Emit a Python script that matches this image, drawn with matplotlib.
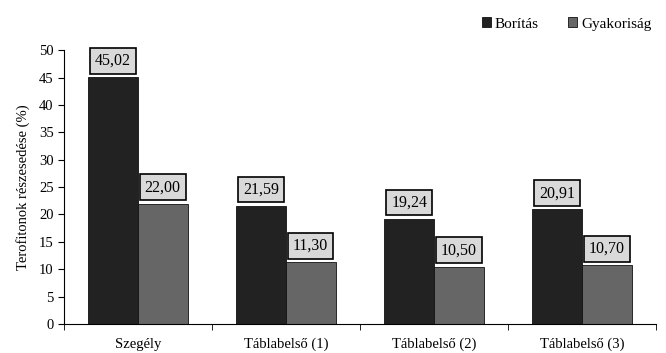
import matplotlib
matplotlib.use('Agg')
import matplotlib.pyplot as plt
import numpy as np

plt.rcParams['font.family'] = ['Liberation Serif', 'DejaVu Serif']

categories = ['Szegély', 'Táblabelső (1)', 'Táblabelső (2)', 'Táblabelső (3)']
boritas = [45.02, 21.59, 19.24, 20.91]
gyakorisag = [22.00, 11.30, 10.50, 10.70]

fig = plt.figure(figsize=(6.66, 3.53), dpi=100)
ax = fig.add_axes([0.096, 0.082, 0.889, 0.776])

x = np.arange(len(categories))
w = 0.335
b1 = ax.bar(x - w / 2, boritas, w, color='#222222', edgecolor='#111111', linewidth=0.6, label='Borítás')
b2 = ax.bar(x + w / 2, gyakorisag, w, color='#666666', edgecolor='#111111', linewidth=0.6, label='Gyakoriság')

for bars, vals in ((b1, boritas), (b2, gyakorisag)):
    for r, v in zip(bars, vals):
        ax.annotate(f'{v:.2f}'.replace('.', ','), (r.get_x() + r.get_width() / 2, v),
                    xytext=(0, 6), textcoords='offset points', ha='center', va='bottom',
                    fontsize=11.5,
                    bbox=dict(boxstyle='square,pad=0.3', fc='#d9d9d9', ec='black', lw=1.2))

ax.set_xlim(-0.5, len(categories) - 0.5)
ax.set_ylim(0, 50)
ax.set_yticks(np.arange(0, 51, 5))
ax.set_xticks(x)
ax.set_xticklabels(categories, fontsize=10.5)
ax.tick_params(axis='x', length=0, pad=10)
ax.set_xticks(np.arange(-0.5, len(categories)), minor=True)
ax.tick_params(axis='x', which='minor', length=4, direction='out')
ax.tick_params(axis='y', labelsize=10.5, length=4, direction='out')
ax.spines['top'].set_visible(False)
ax.spines['right'].set_visible(False)
ax.set_ylabel('Terofitonok részesedése (%)', fontsize=10.5, labelpad=6)

ax.legend(loc='upper right', bbox_to_anchor=(1.015, 1.17), ncol=2, frameon=False,
          fontsize=11, handlelength=0.6, handleheight=0.6, handletextpad=0.25, columnspacing=1.9)

fig.savefig('out.png', dpi=100)
